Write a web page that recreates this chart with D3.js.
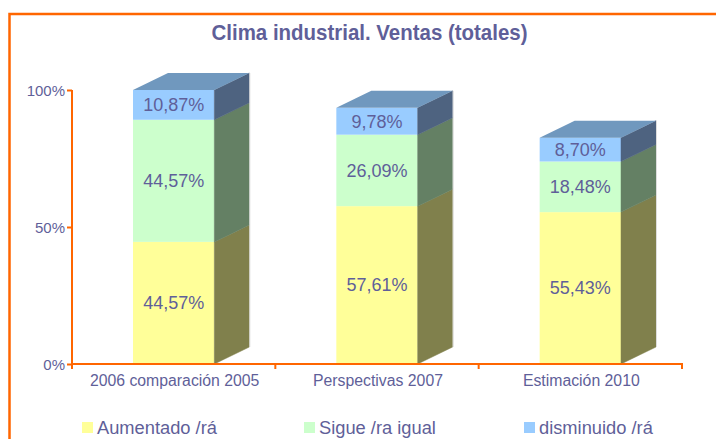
<!DOCTYPE html>
<html><head><meta charset="utf-8">
<script src="https://cdn.jsdelivr.net/npm/d3@7"></script>
<style>
html,body{margin:0;padding:0;background:#fff;}
svg{display:block;font-family:"Liberation Sans",Arial,sans-serif;}
</style></head>
<body>
<svg id="chart" width="716" height="439"></svg>
<script>
const categories = ["2006 comparación 2005", "Perspectivas 2007", "Estimación 2010"];
const seriesNames = ["Aumentado /rá", "Sigue /ra igual", "disminuido /rá"];
const aumentado = [44.57, 57.61, 55.43];
const sigue = [44.57, 26.09, 18.48];
const disminuido = [10.87, 9.78, 8.70];
const yTicks = [0, 50, 100];

const frontColors = ["#FFFF99", "#CCFFCC", "#99CCFF"];
const sideColors = ["#80804C", "#648064", "#4E6380"];
const topColor = "#7098BE";
const textColor = "#5F5F99";
const orange = "#FF6600";

const svg = d3.select("#chart");
const W = 716, H = 439;
const mLeft = 72, mRight = 682, mTop = 90, mBottom = 364;
const dx = 35, dy = 17;

// frame
svg.append("path")
  .attr("d", `M9.5,${H + 5}V14H${W + 5}`)
  .attr("fill", "none").attr("stroke", orange).attr("stroke-width", 2.5);

// title
svg.append("text")
  .attr("x", 369.5).attr("y", 39.5)
  .attr("text-anchor", "middle")
  .attr("font-size", 22).attr("font-weight", "bold")
  .attr("fill", textColor)
  .attr("textLength", 316).attr("lengthAdjust", "spacingAndGlyphs")
  .text("Clima industrial. Ventas (totales)");

const x = d3.scaleBand().domain(categories).range([mLeft, mRight]).paddingInner(0).paddingOuter(0);
const y = d3.scaleLinear().domain([0, 100]).range([mBottom, mTop]);

const seriesData = [aumentado, sigue, disminuido];
const stackData = categories.map((c, i) => {
  const o = {cat: c};
  seriesNames.forEach((s, j) => o[s] = seriesData[j][i]);
  return o;
});
const stacked = d3.stack().keys(seriesNames)(stackData);

const locale = d3.formatLocale({decimal: ",", thousands: ".", grouping: [3], currency: ["", "€"]});
const fmt = v => locale.format(".2f")(v) + "%";

const bw = x.bandwidth() * 0.4;
const bx = c => x(c) + (x.bandwidth() - bw) / 2;

// y axis
const yAxis = svg.append("g").attr("transform", `translate(${mLeft},0)`)
  .call(d3.axisLeft(y).tickValues(yTicks).tickSize(5).tickSizeOuter(0).tickFormat(d => d + "%"));
yAxis.select(".domain").remove();
yAxis.selectAll(".tick line").attr("stroke", orange).attr("stroke-width", 2);
yAxis.selectAll(".tick text").attr("fill", textColor).attr("font-size", 15)
  .attr("font-family", "Liberation Sans, Arial, sans-serif").attr("x", -7).attr("dy", "0.34em");
svg.append("line").attr("x1", mLeft).attr("x2", mLeft).attr("y1", mTop).attr("y2", mBottom + 5)
  .attr("stroke", orange).attr("stroke-width", 2);

const bars = svg.append("g");
categories.forEach((c, i) => {
  const x0 = bx(c), x1 = x0 + bw;
  stacked.forEach((layer, j) => {
    const d = layer[i];
    const yb = y(d[0]), yt = y(d[1]);
    bars.append("rect").attr("x", x0).attr("y", yt).attr("width", bw).attr("height", yb - yt)
      .attr("fill", frontColors[j]);
    bars.append("path")
      .attr("d", `M${x1},${yt}L${x1 + dx},${yt - dy}L${x1 + dx},${yb - dy}L${x1},${yb}Z`)
      .attr("fill", sideColors[j]).attr("stroke", sideColors[j]).attr("stroke-width", 0.5);
    if (j === stacked.length - 1) {
      bars.append("path")
        .attr("d", `M${x0},${yt}L${x0 + dx},${yt - dy}L${x1 + dx},${yt - dy}L${x1},${yt}Z`)
        .attr("fill", topColor);
    }
    bars.append("text")
      .attr("x", x0 + bw / 2).attr("y", (yt + yb) / 2 + 6.3)
      .attr("text-anchor", "middle").attr("font-size", 18).attr("fill", textColor)
      .text(fmt(d.data[seriesNames[j]]));
  });
  const s = stacked[stacked.length - 1][i];
  bars.append("line").attr("x1", x1 + dx + 0.5).attr("x2", x1 + dx + 0.5)
    .attr("y1", y(s[1]) - dy).attr("y2", y(0) - dy)
    .attr("stroke", "#dddddd").attr("stroke-width", 1);
});

// x axis
const xAxisG = svg.append("g").attr("transform", `translate(0,${mBottom})`);
xAxisG.append("line").attr("x1", mLeft).attr("x2", mRight + 1).attr("y1", 0).attr("y2", 0)
  .attr("stroke", orange).attr("stroke-width", 2);
categories.forEach((c, i) => {
  const xr = x(c) + x.bandwidth();
  xAxisG.append("line").attr("x1", xr).attr("x2", xr).attr("y1", 0).attr("y2", 5)
    .attr("stroke", orange).attr("stroke-width", 2);
  xAxisG.append("text").attr("x", x(c) + x.bandwidth() / 2 + 1).attr("y", 21.5)
    .attr("text-anchor", "middle").attr("font-size", 15.8).attr("fill", textColor).text(c);
});

// legend
const legX = [82, 304, 524];
seriesNames.forEach((s, j) => {
  svg.append("rect").attr("x", legX[j]).attr("y", 422).attr("width", 11).attr("height", 11)
    .attr("fill", frontColors[j]);
  svg.append("text").attr("x", legX[j] + 15).attr("y", 434)
    .attr("font-size", 18.3).attr("fill", textColor)
    .text(s);
});
</script>
</body></html>
